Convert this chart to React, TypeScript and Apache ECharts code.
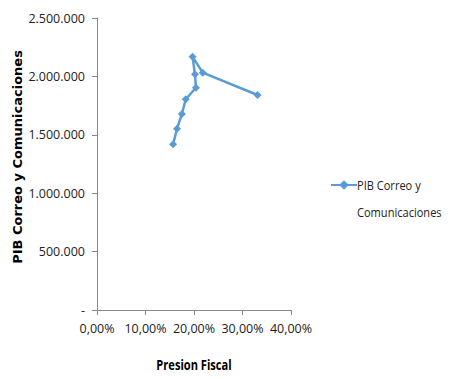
import React, { useEffect, useRef } from "react";
import * as echarts from "echarts";

const seriesName = "PIB Correo y Comunicaciones";
const legendLines = ["PIB Correo y", "Comunicaciones"];
const xTitle = "Presion Fiscal";
const presionFiscal = [15.7, 16.5, 17.5, 18.3, 20.4, 20.2, 19.7, 21.8, 33.1];
const pibCorreo = [1419000, 1552000, 1678000, 1804000, 1903000, 2018000, 2169000, 2032000, 1841000];
const xTicks = [0, 10, 20, 30, 40];
const yTicks = [0, 500000, 1000000, 1500000, 2000000, 2500000];

const FONT = "'Open Sans', sans-serif";
const COLOR = "#5B9BD5";

function fmtThousands(v: number): string {
  if (v === 0) return "-";
  return String(Math.round(v)).replace(/\B(?=(\d{3})+(?!\d))/g, ".");
}
function fmtPct(v: number): string {
  return v.toFixed(2).replace(".", ",") + "%";
}

export default function App() {
  const ref = useRef<HTMLDivElement>(null);
  useEffect(() => {
    if (!ref.current) return;
    const chart = echarts.init(ref.current, undefined, { renderer: "svg" });
    chart.setOption({
      animation: false,
      backgroundColor: "#ffffff",
      grid: { left: 97, right: 163, top: 18, bottom: 69, containLabel: false },
      legend: {
        orient: "vertical",
        left: 325,
        top: 174,
        padding: 5,
        itemWidth: 26,
        itemHeight: 12,
        data: [seriesName],
        formatter: () => "",
        textStyle: { fontFamily: FONT, fontSize: 12 },
      },
      graphic: [
        {
          type: "text",
          x: 357,
          y: 185,
          scaleX: 0.82,
          style: { text: legendLines[0], fontFamily: FONT, fontSize: 13.5, fill: "#222", verticalAlign: "middle", textAlign: "left" },
        },
        {
          type: "text",
          x: 357,
          y: 212,
          scaleX: 0.82,
          style: { text: legendLines[1], fontFamily: FONT, fontSize: 13.5, fill: "#222", verticalAlign: "middle", textAlign: "left" },
        },
        {
          type: "text",
          x: 194,
          y: 364,
          scaleX: 0.74,
          style: { text: xTitle, fontFamily: FONT, fontSize: 15, fontWeight: "bold", fill: "#000", verticalAlign: "middle", textAlign: "center" },
        },
        {
          type: "text",
          x: 17,
          y: 157,
          rotation: Math.PI / 2,
          style: { text: seriesName, fontFamily: "'DejaVu Sans', Verdana, sans-serif", fontSize: 13, fontWeight: "bold", fill: "#000", verticalAlign: "middle", textAlign: "center" },
        },
      ],
      xAxis: {
        type: "value",
        min: xTicks[0],
        max: xTicks[xTicks.length - 1],
        interval: 10,
        splitLine: { show: false },
        axisLine: { show: true, lineStyle: { color: "#888", width: 1 } },
        axisTick: { show: true, inside: false, length: 5, lineStyle: { color: "#888" } },
        axisLabel: {
          fontFamily: FONT,
          fontSize: 12.5,
          color: "#222",
          margin: 12,
          formatter: (v: number) => fmtPct(v),
        },
      },
      yAxis: {
        type: "value",
        min: yTicks[0],
        max: yTicks[yTicks.length - 1],
        interval: 500000,
        splitLine: { show: false },
        axisLine: { show: true, lineStyle: { color: "#888", width: 1 } },
        axisTick: { show: true, inside: false, length: 5, lineStyle: { color: "#888" } },
        axisLabel: {
          fontFamily: FONT,
          fontSize: 12.5,
          color: "#222",
          margin: 12,
          formatter: (v: number) => fmtThousands(v),
        },
      },
      series: [
        {
          name: seriesName,
          type: "line",
          data: presionFiscal.map((x, i) => [x, pibCorreo[i]]),
          symbol: "diamond",
          symbolSize: 8,
          color: COLOR,
          lineStyle: { color: COLOR, width: 2.5 },
          itemStyle: { color: COLOR },
        },
      ],
    });
    return () => chart.dispose();
  }, []);
  return <div ref={ref} style={{ width: 454, height: 379, position: "absolute", left: 0, top: 0 }} />;
}
